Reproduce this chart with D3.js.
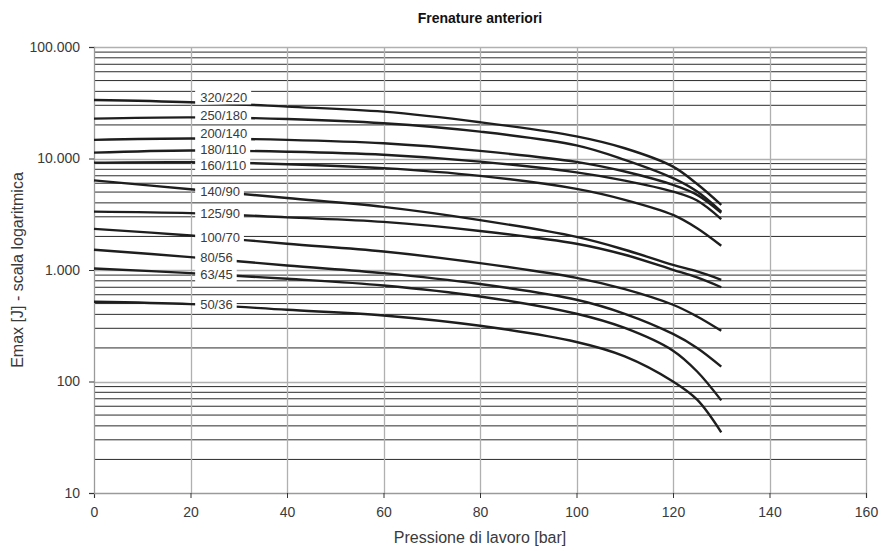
<!DOCTYPE html>
<html>
<head>
<meta charset="utf-8">
<script src="https://cdn.jsdelivr.net/npm/d3@7"></script>
<style>
  body { margin: 0; background: #fff; }
  text { font-family: "Liberation Sans", Arial, sans-serif; }
</style>
</head>
<body>
<div id="chart"></div>
<script>
// pressure points [bar]
const pressure = [0, 20, 40, 60, 80, 100, 110, 120, 125, 130];

// Emax [J] per caliper
const e320_220 = [33500, 32000, 29200, 26300, 21150, 15800, 12360, 8460, 5900, 3840];
const e250_180 = [22800, 23400, 22600, 20700, 17400, 13100, 9720, 6660, 5050, 3340];
const e200_140 = [14700, 15100, 14700, 13700, 11700, 9330, 7640, 5800, 4720, 3260];
const e180_110 = [11300, 11800, 11500, 10800, 9380, 7510, 6340, 5050, 4200, 2860];
const e160_110 = [9190, 9270, 8890, 8190, 6980, 5340, 4260, 3120, 2370, 1650];
const e140_90 = [6360, 5300, 4420, 3680, 2800, 1980, 1520, 1110, 970, 817];
const e125_90 = [3340, 3235, 2965, 2700, 2240, 1720, 1370, 1004, 857, 700];
const e100_70 = [2340, 2040, 1720, 1465, 1153, 851, 674, 488, 383, 285];
const e80_56 = [1517, 1305, 1097, 938, 748, 541, 405, 267, 200, 136];
const e63_45 = [1031, 938, 834, 726, 579, 405, 302, 189, 123, 67.7];
const e50_36 = [519, 494, 440, 391, 316, 226, 168, 100, 68.7, 35];

const seriesNames = ["320/220", "250/180", "200/140", "180/110", "160/110", "140/90",
                     "125/90", "100/70", "80/56", "63/45", "50/36"];
const seriesValues = [e320_220, e250_180, e200_140, e180_110, e160_110, e140_90,
                      e125_90, e100_70, e80_56, e63_45, e50_36];
// where each label sits (Emax value of the label centre)
const labelPressure = 22;
const labelEnergy = [35650, 24100, 16700, 11940, 8630, 5050, 3240, 1955, 1294, 912, 491];

const xTicks = [0, 20, 40, 60, 80, 100, 120, 140, 160];
const yTicks = [10, 100, 1000, 10000, 100000];
const yMinor = [];
[10, 100, 1000, 10000].forEach(d => { for (let k = 2; k <= 9; k++) yMinor.push(d * k); });

const margin = { top: 47, right: 17, bottom: 58, left: 94 },
      width = 883 - margin.left - margin.right,
      height = 551 - margin.top - margin.bottom;

const x = d3.scaleLinear().domain([0, 160]).range([0, width]);
const y = d3.scaleLog().domain([10, 100000]).range([height, 0]);

const it = d3.formatLocale({ decimal: ",", thousands: ".", grouping: [3], currency: ["", " €"] });
const fmt = it.format(",d");

const svg = d3.select("#chart").append("svg")
  .attr("width", 883)
  .attr("height", 551)
  .style("background", "#fff");

const g = svg.append("g")
  .attr("transform", `translate(${margin.left},${margin.top})`);

// minor horizontal lines (dark)
g.selectAll(".minor")
  .data(yMinor)
  .join("line")
  .attr("class", "minor")
  .attr("x1", 0).attr("x2", width)
  .attr("y1", d => y(d)).attr("y2", d => y(d))
  .attr("stroke", "#2b2b2b")
  .attr("stroke-width", 1);

// major horizontal lines
g.selectAll(".major")
  .data(yTicks.slice(1))
  .join("line")
  .attr("class", "major")
  .attr("x1", 0).attr("x2", width)
  .attr("y1", d => Math.round(y(d)) + 0.5).attr("y2", d => Math.round(y(d)) + 0.5)
  .attr("stroke", "#b0b0b0")
  .attr("stroke-width", 1.3);

// vertical grid
g.selectAll(".vgrid")
  .data(xTicks.slice(1))
  .join("line")
  .attr("class", "vgrid")
  .attr("x1", d => Math.round(x(d)) + 0.5).attr("x2", d => Math.round(x(d)) + 0.5)
  .attr("y1", 0).attr("y2", height)
  .attr("stroke", "#b0b0b0")
  .attr("stroke-width", 1.3);

// axes
const xAxis = g.append("g")
  .attr("transform", `translate(0,${height})`)
  .call(d3.axisBottom(x).tickValues(xTicks).tickSize(5).tickPadding(9));
const yAxis = g.append("g")
  .call(d3.axisLeft(y).tickValues(yTicks).tickFormat(fmt).tickSize(5).tickPadding(9));

[xAxis, yAxis].forEach(a => {
  a.select(".domain").attr("stroke", "#9a9a9a").attr("stroke-width", 1.3);
  a.selectAll(".tick line").attr("stroke", "#333");
  a.selectAll(".tick text")
    .attr("fill", "#3a3a3a")
    .style("font-size", "14px")
    .style("font-family", "'Liberation Sans', Arial, sans-serif");
});

// curves
const line = d3.line()
  .x((d, i) => x(pressure[i]))
  .y(d => y(d))
  .curve(d3.curveCatmullRom.alpha(0.5));

g.selectAll(".curve")
  .data(seriesValues)
  .join("path")
  .attr("class", "curve")
  .attr("d", d => line(d))
  .attr("fill", "none")
  .attr("stroke", "#1e1e1e")
  .attr("stroke-width", 2.4);

// curve labels with white box
const labels = g.selectAll(".clabel")
  .data(seriesNames)
  .join("g")
  .attr("class", "clabel")
  .attr("transform", (d, i) => `translate(${x(labelPressure)},${y(labelEnergy[i])})`);

labels.append("text")
  .attr("dy", "0.35em")
  .attr("fill", "#3a3a3a")
  .style("font-size", "13px")
  .text(d => d);

labels.each(function () {
  const sel = d3.select(this);
  const bb = sel.select("text").node().getBBox();
  sel.insert("rect", "text")
    .attr("x", bb.x - 5)
    .attr("y", -7.5)
    .attr("width", bb.width + 9)
    .attr("height", 15)
    .attr("fill", "#fff");
});

// titles
svg.append("text")
  .attr("x", margin.left + width / 2)
  .attr("y", 23)
  .attr("text-anchor", "middle")
  .attr("fill", "#111")
  .style("font-size", "14px")
  .style("font-weight", "bold")
  .text("Frenature anteriori");

svg.append("text")
  .attr("x", margin.left + width / 2)
  .attr("y", 543)
  .attr("text-anchor", "middle")
  .attr("fill", "#3a3a3a")
  .style("font-size", "16px")
  .text("Pressione di lavoro [bar]");

svg.append("text")
  .attr("transform", `translate(23,${margin.top + height / 2}) rotate(-90)`)
  .attr("text-anchor", "middle")
  .attr("fill", "#3a3a3a")
  .style("font-size", "16px")
  .text("Emax [J] - scala logaritmica");
</script>
</body>
</html>
